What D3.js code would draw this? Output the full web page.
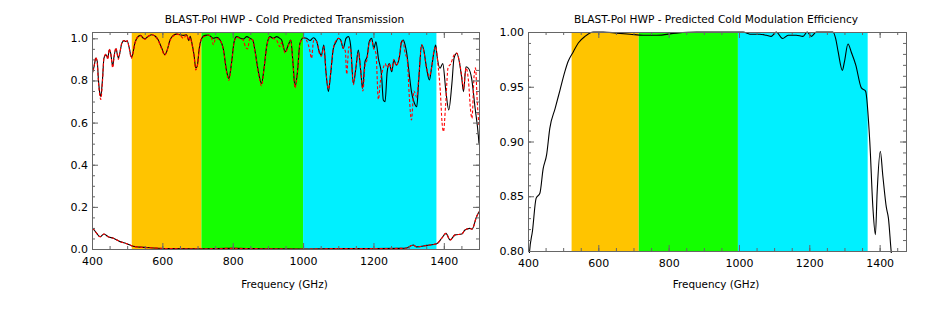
<!DOCTYPE html>
<html>
<head>
<meta charset="utf-8">
<script src="https://cdn.jsdelivr.net/npm/d3@7"></script>
<style>
  body { margin: 0; background: #fff; }
  text { font-family: "DejaVu Sans", sans-serif; fill: #000; }
</style>
</head>
<body>
<div id="chart"></div>
<script>
// left panel: predicted transmission (black = model, red dashed = second model)
const transBlack = [
  [400,0.827],[406,0.867],[411,0.906],[415,0.89],[418,0.81],[423,0.732],[425,0.725],[430,0.81],
  [434,0.906],[440,0.922],[445,0.906],[449,0.946],[453,0.93],[459,0.867],[462,0.906],[468,0.95],
  [475,0.906],[479,0.93],[485,0.978],[491,0.989],[496,0.985],[500,0.987],[506,0.954],[512,0.91],
  [515,0.92],[522,0.978],[532,1.01],[538,1.014],[546,1.0],[550,0.998],[560,1.01],[570,1.017],
  [580,1.01],[588,0.993],[598,0.954],[607,0.922],[613,0.94],[622,0.993],[631,1.014],[641,1.02],
  [650,1.017],[660,1.014],[669,1.017],[675,0.989],[679,1.01],[683,0.986],[690,0.922],[695,0.859],
  [699,0.867],[705,0.954],[712,1.0],[721,1.014],[731,1.016],[745,1.0],[755,1.005],[764,0.992],
  [773,0.952],[783,0.841],[789,0.81],[797,0.889],[804,0.984],[811,1.008],[820,1.002],[830,0.997],
  [840,1.008],[849,1.0],[857,0.992],[863,0.944],[873,0.841],[882,0.786],[889,0.858],[897,0.968],
  [906,1.008],[915,1.0],[925,1.008],[934,1.0],[939,0.992],[949,0.936],[958,0.968],[965,0.992],
  [971,0.889],[977,0.77],[984,0.841],[991,0.976],[1001,1.003],[1010,1.0],[1020,0.99],[1029,1.003],
  [1039,0.984],[1046,0.936],[1052,0.92],[1059,0.968],[1065,0.841],[1072,0.747],[1078,0.826],
  [1086,0.952],[1094,0.984],[1100,1.0],[1107,0.992],[1114,0.952],[1122,1.0],[1129,1.008],
  [1135,0.968],[1143,0.786],[1150,0.858],[1157,0.944],[1164,0.841],[1169,0.762],[1176,0.889],
  [1182,0.913],[1188,0.984],[1195,1.0],[1201,0.952],[1207,0.984],[1214,0.905],[1223,0.826],
  [1228,0.707],[1233,0.699],[1239,0.841],[1245,0.88],[1252,0.841],[1258,0.897],[1265,0.873],
  [1274,0.913],[1280,0.984],[1285,0.992],[1290,0.968],[1294,0.936],[1302,0.826],[1308,0.747],
  [1315,0.699],[1323,0.675],[1329,0.81],[1337,0.968],[1343,0.944],[1351,0.858],[1359,0.802],
  [1365,0.858],[1372,0.936],[1377,0.968],[1381,0.913],[1389,0.858],[1397,0.88],[1406,0.747],
  [1414,0.66],[1423,0.786],[1429,0.905],[1437,0.929],[1444,0.889],[1451,0.81],[1456,0.747],
  [1463,0.865],[1470,0.858],[1479,0.81],[1489,0.668],[1498,0.541],[1500,0.5]
];
const transRed = [
  [400,0.82],[406,0.87],[411,0.91],[415,0.88],[418,0.8],[423,0.72],[425,0.71],[430,0.8],
  [434,0.91],[440,0.925],[445,0.9],[449,0.95],[453,0.93],[459,0.86],[462,0.9],[468,0.955],
  [475,0.9],[479,0.93],[485,0.98],[491,0.99],[496,0.98],[500,0.99],[506,0.95],[512,0.905],
  [515,0.92],[522,0.975],[532,1.01],[538,1.012],[546,1.0],[550,0.995],[560,1.01],[570,1.017],
  [580,1.008],[588,0.99],[598,0.95],[607,0.92],[613,0.94],[622,0.99],[631,1.01],[641,1.02],
  [650,1.015],[660,1.0],[669,1.017],[675,0.99],[679,1.005],[683,0.98],[690,0.915],[695,0.85],
  [699,0.865],[705,0.95],[712,1.0],[721,1.01],[731,1.016],[740,1.0],[745,0.97],[752,1.0],
  [764,0.99],[773,0.95],[783,0.835],[789,0.8],[797,0.885],[804,0.98],[811,1.005],[820,1.0],
  [830,0.99],[836,0.96],[842,0.95],[849,1.0],[857,0.99],[863,0.94],[873,0.835],[882,0.775],
  [889,0.855],[897,0.965],[906,1.005],[915,1.0],[925,0.99],[934,0.96],[939,0.98],[949,0.93],
  [958,0.965],[965,0.99],[971,0.885],[977,0.765],[984,0.84],[991,0.975],[1001,1.003],
  [1010,0.99],[1018,0.95],[1024,0.905],[1030,0.99],[1039,0.984],[1046,0.93],[1052,0.915],
  [1059,0.96],[1065,0.84],[1072,0.76],[1078,0.83],[1086,0.95],[1094,0.99],[1100,1.0],
  [1107,0.99],[1114,0.955],[1120,0.94],[1124,0.83],[1130,0.96],[1135,0.95],[1143,0.78],
  [1150,0.86],[1157,0.93],[1164,0.85],[1170,0.75],[1176,0.87],[1182,0.9],[1188,0.98],
  [1195,0.99],[1201,0.95],[1207,0.93],[1214,0.71],[1220,0.8],[1228,0.86],[1233,0.88],
  [1239,0.86],[1245,0.88],[1252,0.85],[1258,0.9],[1265,0.87],[1274,0.92],[1280,0.99],
  [1285,0.98],[1290,0.93],[1296,0.9],[1302,0.72],[1308,0.612],[1315,0.75],[1323,0.72],
  [1329,0.82],[1337,0.97],[1343,0.94],[1351,0.86],[1359,0.82],[1365,0.86],[1372,0.94],
  [1377,0.96],[1383,0.88],[1390,0.75],[1395,0.6],[1399,0.557],[1405,0.68],[1412,0.86],
  [1420,0.88],[1429,0.92],[1437,0.93],[1444,0.89],[1451,0.82],[1456,0.76],[1463,0.86],
  [1470,0.8],[1476,0.66],[1480,0.62],[1486,0.82],[1490,0.86],[1495,0.7],[1500,0.58]
];
// lower curve, black and red coincide
const lowerTrans = [
  [400,0.098],[404,0.094],[413,0.075],[423,0.058],[434,0.071],[446,0.058],[461,0.051],[480,0.035],
  [499,0.025],[517,0.013],[536,0.009],[574,0.005],[620,0.002],[700,0.001],[800,0.003],[900,0.001],
  [1000,0.0],[1100,0.002],[1200,0.002],[1280,0.003],[1294,0.005],[1313,0.019],[1322,0.01],
  [1351,0.017],[1380,0.025],[1394,0.051],[1406,0.074],[1418,0.043],[1432,0.067],[1451,0.071],
  [1460,0.09],[1474,0.098],[1480,0.094],[1493,0.153],[1500,0.177]
];

// right panel: modulation efficiency
const modEff = [
  [400,0.775],[404,0.798],[413,0.819],[423,0.848],[434,0.853],[443,0.875],[453,0.888],[462,0.912],
  [477,0.930],[491,0.947],[505,0.964],[514,0.973],[529,0.982],[543,0.990],[562,0.996],[586,1.0],
  [614,1.0],[652,0.999],[690,0.998],[728,0.997],[766,0.997],[822,0.999],[879,1.0],[943,1.0],
  [993,1.0],[1012,1.0],[1031,0.998],[1059,0.998],[1078,0.997],[1092,0.996],[1106,1.0],
  [1124,0.994],[1140,0.997],[1163,0.997],[1182,0.996],[1194,1.0],[1206,0.996],[1220,1.0],
  [1239,1.0],[1267,1.0],[1275,0.994],[1282,0.982],[1294,0.965],[1300,0.973],[1310,0.989],
  [1320,0.981],[1332,0.970],[1348,0.949],[1360,0.946],[1372,0.900],[1381,0.839],[1388,0.815],
  [1393,0.854],[1402,0.891],[1409,0.869],[1419,0.840],[1425,0.830],[1433,0.799],[1440,0.78]
];

const bandColors = ["#ffc400", "#14ff00", "#00f0ff"];
const leftBandEdges = [513, 711, 1000, 1379];
const rightBandEdges = [524, 715, 997, 1366];

const freqMajor = [400, 600, 800, 1000, 1200, 1400];
const transMajor = [0, 0.2, 0.4, 0.6, 0.8, 1.0];
const effMajor = [0.80, 0.85, 0.90, 0.95, 1.00];

const svg = d3.select("#chart").append("svg")
  .attr("width", 931).attr("height", 316);

function drawPanel(p) {
  const x = d3.scaleLinear().domain(p.xDomain).range([p.left, p.right]);
  const y = d3.scaleLinear().domain(p.yDomain).range([p.bottom, p.top]);
  const g = svg.append("g");

  // coloured bands
  for (let i = 0; i < 3; i++) {
    g.append("rect")
      .attr("x", x(p.bands[i]))
      .attr("y", p.top)
      .attr("width", x(p.bands[i + 1]) - x(p.bands[i]))
      .attr("height", p.bottom - p.top)
      .attr("fill", bandColors[i]);
  }

  // clip a little outside the frame so lines sitting on the edges stay whole
  const clipId = p.id + "-clip";
  svg.append("clipPath").attr("id", clipId)
    .append("rect").attr("x", p.left).attr("y", p.top - 2)
    .attr("width", p.right - p.left).attr("height", p.bottom - p.top + 4);

  const line = d3.line()
    .x(d => x(d[0]))
    .y(d => y(d[1]))
    .curve(d3.curveMonotoneX);

  p.series.forEach(s => {
    g.append("path")
      .datum(s.data)
      .attr("clip-path", `url(#${clipId})`)
      .attr("fill", "none")
      .attr("stroke", s.color)
      .attr("stroke-width", 1.1)
      .attr("stroke-dasharray", s.dash || null)
      .attr("d", line);
  });

  // axes, IDL style: ticks inward on all four sides
  const axisCol = "#666";
  const xMinor = d3.range(p.xDomain[0], p.xDomain[1] + 0.1, 50);
  const yMinor = d3.range(p.yDomain[0], p.yDomain[1] + 1e-6, p.yMinorStep);

  const addAxis = (axis, tx, ty) => {
    const a = g.append("g").attr("transform", `translate(${tx},${ty})`).call(axis);
    a.selectAll("path.domain").attr("stroke", axisCol);
    a.selectAll(".tick line").attr("stroke", axisCol);
    a.selectAll("text").attr("font-size", 11).attr("font-family", "DejaVu Sans").attr("fill", "#111");
    return a;
  };

  addAxis(d3.axisBottom(x).tickValues(xMinor).tickSize(-3).tickFormat(""), 0, p.bottom);
  addAxis(d3.axisBottom(x).tickValues(freqMajor).tickSizeInner(-6).tickSizeOuter(0)
    .tickPadding(8).tickFormat(d3.format("d")), 0, p.bottom);
  addAxis(d3.axisTop(x).tickValues(xMinor).tickSize(-3).tickFormat(""), 0, p.top);
  addAxis(d3.axisTop(x).tickValues(freqMajor).tickSize(-6).tickFormat(""), 0, p.top);

  addAxis(d3.axisLeft(y).tickValues(yMinor).tickSize(-3).tickFormat(""), p.left, 0);
  addAxis(d3.axisLeft(y).tickValues(p.yMajor).tickSizeInner(-6).tickSizeOuter(0)
    .tickPadding(4).tickFormat(d3.format(p.yFormat)), p.left, 0);
  addAxis(d3.axisRight(y).tickValues(yMinor).tickSize(-3).tickFormat(""), p.right, 0);
  addAxis(d3.axisRight(y).tickValues(p.yMajor).tickSize(-6).tickFormat(""), p.right, 0);

  svg.append("text")
    .attr("x", (p.left + p.right) / 2 - 1).attr("y", 23)
    .attr("text-anchor", "middle").attr("font-size", 10.6)
    .text(p.title);

  svg.append("text")
    .attr("x", (p.left + p.right) / 2 - 1).attr("y", 288)
    .attr("text-anchor", "middle").attr("font-size", 10.4)
    .text("Frequency (GHz)");
}

drawPanel({
  id: "trans",
  left: 92, right: 479, top: 32, bottom: 249,
  xDomain: [400, 1500], yDomain: [0, 1.03],
  yMajor: transMajor, yMinorStep: 0.05, yFormat: ".1f",
  bands: leftBandEdges,
  title: "BLAST-Pol HWP - Cold Predicted Transmission",
  series: [
    { data: transBlack, color: "#000" },
    { data: lowerTrans, color: "#000" },
    { data: transRed, color: "#ff0000", dash: "3,2" },
    { data: lowerTrans, color: "#ff0000", dash: "3,2" }
  ]
});

drawPanel({
  id: "eff",
  left: 528, right: 906, top: 32, bottom: 251,
  xDomain: [400, 1475], yDomain: [0.8, 1.0],
  yMajor: effMajor, yMinorStep: 0.01, yFormat: ".2f",
  bands: rightBandEdges,
  title: "BLAST-Pol HWP - Predicted Cold Modulation Efficiency",
  series: [
    { data: modEff, color: "#000" }
  ]
});
</script>
</body>
</html>
